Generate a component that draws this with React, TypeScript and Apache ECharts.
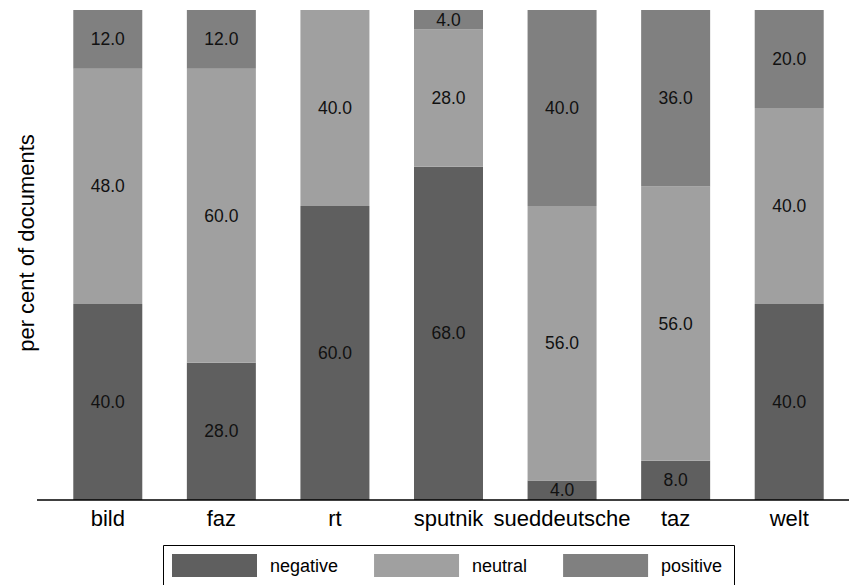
import React, { useEffect, useRef } from "react";
import * as echarts from "echarts";

// Share of documents per outlet by sentiment (per cent)
const outlets = ["bild", "faz", "rt", "sputnik", "sueddeutsche", "taz", "welt"];
const negative = [40, 28, 60, 68, 4, 8, 40];
const neutral = [48, 60, 40, 28, 56, 56, 40];
const positive = [12, 12, 0, 4, 40, 36, 20];

const sentimentNames = ["negative", "neutral", "positive"];
const sentimentColors = ["#5f5f5f", "#a0a0a0", "#808080"];

const FONT = '"Liberation Sans", Arial, Helvetica, sans-serif';

export default function App() {
  const ref = useRef<HTMLDivElement>(null);

  useEffect(() => {
    if (!ref.current) return;
    const chart = echarts.init(ref.current, null, { renderer: "svg" });

    const seriesData = [negative, neutral, positive];

    chart.setOption({
      animation: false,
      backgroundColor: "#ffffff",
      textStyle: { fontFamily: FONT },
      grid: { left: 51, right: 3, top: 10, bottom: 85 },
      xAxis: {
        type: "category",
        data: outlets,
        axisLine: { show: false },
        axisTick: { show: false },
        axisLabel: {
          color: "#000",
          fontSize: 22,
          fontFamily: FONT,
          margin: 7,
          interval: 0,
        },
      },
      yAxis: {
        type: "value",
        min: 0,
        max: 100,
        show: false,
      },
      legend: {
        data: sentimentNames,
        left: 163,
        top: 545,
        orient: "horizontal",
        icon: "rect",
        itemWidth: 85,
        itemHeight: 23,
        itemGap: 36,
        padding: [9, 12, 9, 9],
        textStyle: {
          color: "#000",
          fontSize: 18,
          fontFamily: FONT,
          padding: [0, 0, 0, 8],
        },
      },
      graphic: [
        {
          // x axis baseline, running past the plot on both sides
          type: "line",
          shape: { x1: 37, y1: 500, x2: 849, y2: 500 },
          style: { stroke: "#000", lineWidth: 1.3 },
          z: 10,
        },
        {
          // legend frame: left edge
          type: "line",
          shape: { x1: 163.5, y1: 545.5, x2: 163.5, y2: 620 },
          style: { stroke: "#000", lineWidth: 1 },
          z: 10,
        },
        {
          // legend frame: top edge
          type: "line",
          shape: { x1: 163.5, y1: 545.5, x2: 734.5, y2: 545.5 },
          style: { stroke: "#000", lineWidth: 1 },
          z: 10,
        },
        {
          // legend frame: right edge
          type: "line",
          shape: { x1: 734.5, y1: 545.5, x2: 734.5, y2: 620 },
          style: { stroke: "#000", lineWidth: 1 },
          z: 10,
        },
        {
          type: "text",
          x: 26,
          y: 243,
          rotation: Math.PI / 2,
          style: {
            text: "per cent of documents",
            fill: "#000",
            fontSize: 22,
            fontFamily: FONT,
            align: "center",
            verticalAlign: "middle",
          },
        },
      ],
      series: sentimentNames.map((name, i) => ({
        name,
        type: "bar",
        stack: "share",
        barWidth: 69,
        data: seriesData[i],
        itemStyle: { color: sentimentColors[i] },
        label: {
          show: true,
          position: "inside",
          color: "#111",
          fontSize: 17.5,
          fontFamily: FONT,
          formatter: (p: any) => (p.value > 0 ? Number(p.value).toFixed(1) : ""),
        },
      })),
    });

    return () => chart.dispose();
  }, []);

  return <div ref={ref} style={{ width: 849, height: 585, position: "absolute", left: 0, top: 0 }} />;
}
